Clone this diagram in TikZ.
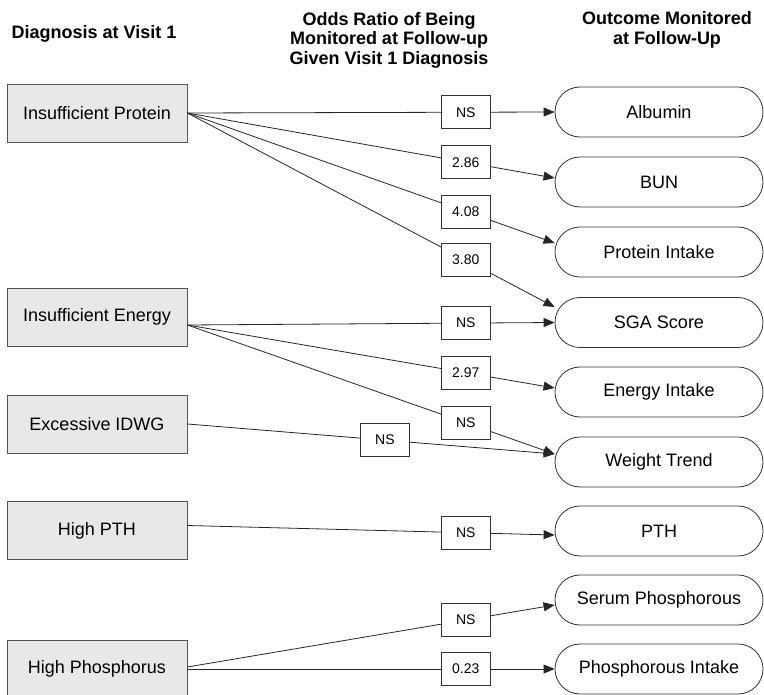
\documentclass[tikz,border=0pt]{standalone}
\usepackage{fontspec}
\setmainfont{Liberation Sans}
\usepackage{tikz}
\usetikzlibrary{shapes.misc,arrows.meta,positioning}
\definecolor{diaggray}{RGB}{232,232,232}
\definecolor{edgegray}{RGB}{85,85,85}

\begin{document}
\begin{tikzpicture}[
        x=1pt, y=-1pt,
        every node/.style={font=\fontsize{18}{19.5}\selectfont, line width=0.8pt},
        head/.style={font=\fontsize{18}{19.5}\selectfont\bfseries, align=center},
        diag/.style={draw=edgegray, fill=diaggray, minimum width=180pt, minimum height=58pt, inner sep=0pt},
        outcome/.style={draw=black!80, rounded rectangle, minimum width=208pt, minimum height=50pt, inner sep=0pt},
        ratio/.style={draw=black!80, fill=white, font=\fontsize{14}{16}\selectfont, minimum width=49pt, minimum height=33pt, inner sep=0pt},
        link/.style={draw=black!85, line width=0.8pt, -{Triangle[length=11pt,width=9pt]}},
    ]
        \useasboundingbox (0,0) rectangle (764,695);

        \node[head] (hdiag) at (94,34) {Diagnosis at Visit 1};
        \node[head] (hodds) at (389,40) {Odds Ratio of Being\\Monitored at Follow-up\\Given Visit 1 Diagnosis};
        \node[head] (hout) at (667,30) {Outcome Monitored\\at Follow-Up};

        \node[diag] (ip) at (97,113) {Insufficient Protein};
        \node[diag] (ie) at (97,317) {Insufficient Energy};
        \node[diag] (idwg) at (97,424) {Excessive IDWG};
        \node[diag] (hpth) at (97,530.5) {High PTH};
        \node[diag] (hphos) at (97,669) {High Phosphorus};

        \node[outcome] (alb) at (659,112) {Albumin};
        \node[outcome] (bun) at (659,182) {BUN};
        \node[outcome] (pint) at (659,252) {Protein Intake};
        \node[outcome] (sga) at (659,322.5) {SGA Score};
        \node[outcome] (eint) at (659,392) {Energy Intake};
        \node[outcome] (wt) at (659,462) {Weight Trend};
        \node[outcome] (pth) at (659,531) {PTH};
        \node[outcome] (sphos) at (659,600) {Serum Phosphorous};
        \node[outcome] (phint) at (659,669) {Phosphorous Intake};

        \draw[link] (ip.east) -- node[ratio, pos=.758] (r1) {NS} (alb.west);
        \draw[link] (ip.east) -- node[ratio, pos=.758] (r2) {2.86} ([yshift=4pt]bun.west);
        \draw[link] (ip.east) -- node[ratio, pos=.758] (r3) {4.08} ([yshift=9pt]pint.west);
        \draw[link] (ip.east) -- node[ratio, pos=.758] (r4) {3.80} ([yshift=15.5pt]sga.west);

        \draw[link] ([yshift=-8pt]ie.east) -- node[ratio, pos=.758] (r5) {NS} (sga.west);
        \draw[link] ([yshift=-8pt]ie.east) -- node[ratio, pos=.758] (r6) {2.97} ([yshift=4pt]eint.west);
        \draw[link] ([yshift=-8pt]ie.east) -- node[ratio, pos=.758] (r7) {NS} ([yshift=8pt]wt.west);

        \draw[link] (idwg.east) -- node[ratio, pos=.538] (r8) {NS} ([yshift=8pt]wt.west);

        \draw[link] ([yshift=5pt]hpth.east) -- node[ratio, pos=.758] (r9) {NS} ([yshift=-4pt]pth.west);

        \draw[link] ([yshift=2pt]hphos.east) -- node[ratio, pos=.758] (r10) {NS} ([yshift=-5pt]sphos.west);
        \draw[link] (hphos.east) -- node[ratio, pos=.758] (r11) {0.23} (phint.west);
    \end{tikzpicture}
\end{document}
